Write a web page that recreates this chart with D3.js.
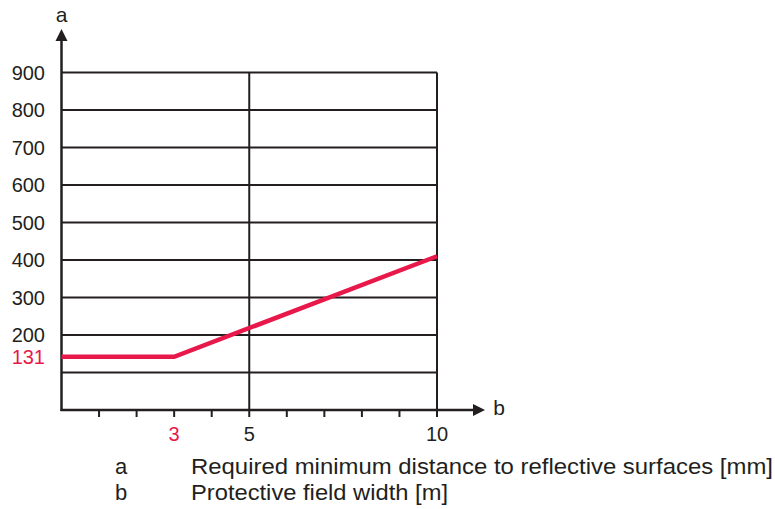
<!DOCTYPE html>
<html>
<head>
<meta charset="utf-8">
<script src="https://cdn.jsdelivr.net/npm/d3@7"></script>
<style>
  body { margin: 0; background: #fff; }
  text { font-family: "Liberation Sans", Arial, sans-serif; }
</style>
</head>
<body>
<svg width="775" height="509"></svg>
<script>
// values
var bValues = [0, 3, 10];          // protective field width [m]
var aValues = [142, 142, 410];     // min distance [mm] as drawn
var yTicks = [100, 200, 300, 400, 500, 600, 700, 800, 900];
var yTickLabels = ["", "200", "300", "400", "500", "600", "700", "800", "900"];
var xTicks = [1, 2, 3, 4, 5, 6, 7, 8, 9, 10];
var xTickLabels = ["3", "5", "10"];
var xLabelAt = [3, 5, 10];
var xGrid = [5, 10];
var markLabel = "131";
var legendKeys = ["a", "b"];
var legendTexts = ["Required minimum distance to reflective surfaces [mm]", "Protective field width [m]"];
var legendWidths = [582, 257];

var red = "#e8184b", ink = "#231f20";

var svg = d3.select("svg");

var x = d3.scaleLinear().domain([0, 10]).range([61.5, 437]);
var y = d3.scaleLinear().domain([0, 900]).range([410, 72.5]);

// grid
svg.append("g").selectAll("line")
    .data(yTicks).enter().append("line")
    .attr("x1", x(0)).attr("x2", x(10))
    .attr("y1", function(d) { return y(d); })
    .attr("y2", function(d) { return y(d); })
    .attr("stroke", ink).attr("stroke-width", 2);

svg.append("g").selectAll("line")
    .data(xGrid).enter().append("line")
    .attr("x1", function(d) { return x(d); })
    .attr("x2", function(d) { return x(d); })
    .attr("y1", y(0)).attr("y2", y(900))
    .attr("stroke", ink).attr("stroke-width", 2);

// axes
svg.append("line")
    .attr("x1", x(0)).attr("x2", x(0))
    .attr("y1", y(0) + 1).attr("y2", 38)
    .attr("stroke", ink).attr("stroke-width", 2.5);
svg.append("path")
    .attr("d", "M" + (x(0) - 6) + ",41 L" + x(0) + ",29 L" + (x(0) + 6) + ",41 Z")
    .attr("fill", ink);

svg.append("line")
    .attr("x1", x(0) - 1).attr("x2", 476)
    .attr("y1", y(0)).attr("y2", y(0))
    .attr("stroke", ink).attr("stroke-width", 2.5);
svg.append("path")
    .attr("d", "M473," + (y(0) - 6) + " L485," + y(0) + " L473," + (y(0) + 6) + " Z")
    .attr("fill", ink);

svg.append("g").selectAll("line")
    .data(xTicks).enter().append("line")
    .attr("x1", function(d) { return x(d); })
    .attr("x2", function(d) { return x(d); })
    .attr("y1", y(0)).attr("y2", y(0) + 7)
    .attr("stroke", ink).attr("stroke-width", 2);

// axis names
svg.append("text").attr("x", x(0)).attr("y", 22)
    .attr("text-anchor", "middle").attr("font-size", 21).attr("fill", ink).text("a");
svg.append("text").attr("x", 499).attr("y", 415)
    .attr("text-anchor", "middle").attr("font-size", 21).attr("fill", ink).text("b");

// tick labels
svg.append("g").selectAll("text")
    .data(yTicks).enter().append("text")
    .attr("x", 45)
    .attr("y", function(d) { return y(d) + 7; })
    .attr("text-anchor", "end").attr("font-size", 20).attr("fill", ink)
    .text(function(d, i) { return yTickLabels[i]; });

svg.append("g").selectAll("text")
    .data(xLabelAt).enter().append("text")
    .attr("x", function(d) { return x(d); })
    .attr("y", 441)
    .attr("text-anchor", "middle").attr("font-size", 20)
    .attr("fill", function(d) { return d === 3 ? red : ink; })
    .text(function(d, i) { return xTickLabels[i]; });

svg.append("text").attr("x", 45).attr("y", y(aValues[0]) + 7)
    .attr("text-anchor", "end").attr("font-size", 20).attr("fill", red).text(markLabel);

// curve
var line = d3.line()
    .x(function(d) { return x(d[0]); })
    .y(function(d) { return y(d[1]); });

svg.append("path")
    .datum(d3.zip(bValues, aValues))
    .attr("d", line)
    .attr("fill", "none").attr("stroke", red).attr("stroke-width", 4.5);

// legend
var leg = svg.append("g").selectAll("g")
    .data(legendKeys).enter().append("g")
    .attr("transform", function(d, i) { return "translate(0," + (474 + i * 26) + ")"; });
leg.append("text").attr("x", 121).attr("text-anchor", "middle")
    .attr("font-size", 22).attr("fill", ink).text(function(d) { return d; });
leg.append("text").attr("x", 191)
    .attr("font-size", 22).attr("fill", ink)
    .attr("textLength", function(d, i) { return legendWidths[i]; })
    .attr("lengthAdjust", "spacingAndGlyphs")
    .text(function(d, i) { return legendTexts[i]; });
</script>
</body>
</html>
